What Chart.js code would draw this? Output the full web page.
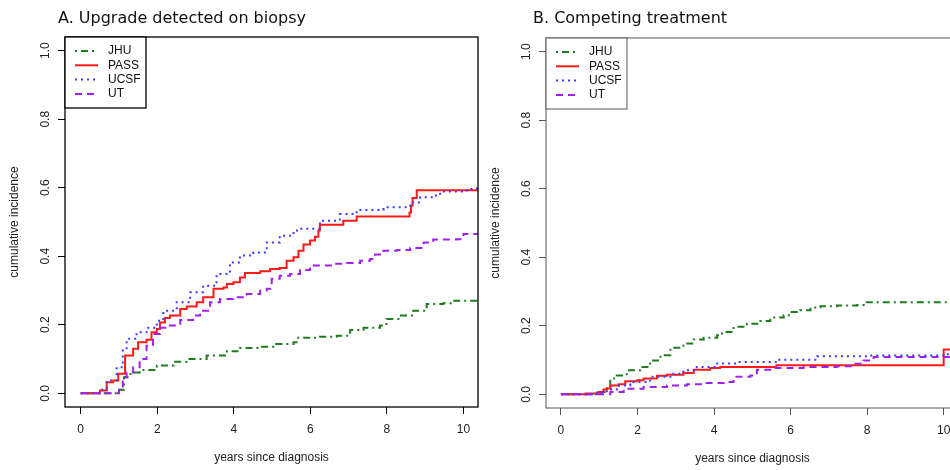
<!DOCTYPE html>
<html>
<head>
<meta charset="utf-8">
<script src="https://cdn.jsdelivr.net/npm/chart.js@4.4.1/dist/chart.umd.min.js"></script>
<style>
html, body { margin: 0; padding: 0; background: #fff; overflow: hidden; width: 950px; height: 470px; }
#left { position: absolute; left: 0; top: 0; }
#right { position: absolute; left: 480px; top: 0; }
</style>
</head>
<body>
<canvas id="left" width="490" height="470"></canvas>
<canvas id="right" width="490" height="470"></canvas>
<script>
var groups = ["JHU", "PASS", "UCSF", "UT"];
var xTicks = [0, 2, 4, 6, 8, 10];
var yTicks = [0, 0.2, 0.4, 0.6, 0.8, 1.0];
var yTickLabels = ["0.0", "0.2", "0.4", "0.6", "0.8", "1.0"];

// A. upgrade detected on biopsy (years, cumulative incidence)
var upJhuT = [0, 0.8, 1.0, 1.13, 1.3, 1.54, 1.99, 2.43, 2.77, 3.29, 3.82, 4.16, 4.69, 5.11, 5.56, 5.64, 6.25, 6.69, 7.04, 7.39, 7.82, 7.99, 8.34, 8.69, 9.04, 9.47, 9.73, 10.5];
var upJhuY = [0, 0, 0.01, 0.047, 0.061, 0.068, 0.081, 0.092, 0.1, 0.11, 0.123, 0.132, 0.136, 0.144, 0.149, 0.162, 0.165, 0.168, 0.185, 0.191, 0.198, 0.217, 0.227, 0.241, 0.261, 0.263, 0.27, 0.27];
var upPassT = [0, 0.42, 0.5, 0.68, 0.85, 0.98, 1.16, 1.37, 1.5, 1.72, 1.85, 1.99, 2.07, 2.2, 2.33, 2.6, 2.77, 3.03, 3.2, 3.47, 3.73, 3.82, 3.99, 4.16, 4.29, 4.69, 4.95, 5.2, 5.38, 5.56, 5.69, 5.82, 5.99, 6.12, 6.21, 6.25, 6.86, 7.21, 8.59, 8.63, 8.67, 8.78, 10.5];
var upPassY = [0, 0, 0.008, 0.032, 0.037, 0.057, 0.11, 0.13, 0.149, 0.156, 0.178, 0.188, 0.207, 0.22, 0.227, 0.246, 0.253, 0.266, 0.28, 0.305, 0.309, 0.319, 0.324, 0.338, 0.351, 0.356, 0.363, 0.366, 0.387, 0.397, 0.416, 0.434, 0.446, 0.457, 0.475, 0.492, 0.504, 0.516, 0.528, 0.548, 0.57, 0.593, 0.593];
var upUcsfT = [0, 0.4, 0.5, 0.68, 0.94, 1.1, 1.2, 1.46, 1.72, 1.99, 2.16, 2.51, 2.86, 3.2, 3.55, 3.9, 4.16, 4.51, 4.86, 5.2, 5.56, 5.73, 6.25, 6.77, 7.21, 7.91, 8.61, 8.87, 9.21, 9.39, 10.09, 10.35, 10.5];
var upUcsfY = [0, 0, 0.01, 0.037, 0.076, 0.125, 0.159, 0.178, 0.191, 0.212, 0.241, 0.266, 0.295, 0.314, 0.348, 0.382, 0.402, 0.411, 0.44, 0.46, 0.475, 0.48, 0.504, 0.523, 0.535, 0.543, 0.557, 0.572, 0.577, 0.589, 0.596, 0.606, 0.606];
var upUtT = [0, 0.81, 1.0, 1.1, 1.2, 1.37, 1.54, 1.72, 1.89, 2.07, 2.33, 2.6, 2.94, 3.12, 3.38, 3.64, 3.99, 4.34, 4.69, 4.86, 4.99, 5.2, 5.47, 5.73, 5.99, 6.6, 6.95, 7.3, 7.56, 7.69, 7.91, 8.26, 8.61, 8.96, 9.21, 9.82, 10.0, 10.5];
var upUtY = [0, 0, 0.01, 0.047, 0.061, 0.076, 0.1, 0.139, 0.173, 0.191, 0.198, 0.214, 0.227, 0.241, 0.266, 0.275, 0.28, 0.29, 0.3, 0.305, 0.334, 0.343, 0.348, 0.36, 0.373, 0.378, 0.38, 0.387, 0.392, 0.405, 0.416, 0.418, 0.424, 0.44, 0.449, 0.45, 0.465, 0.465];

// B. competing treatment
var ctJhuT = [0, 0.77, 1.03, 1.2, 1.29, 1.46, 1.72, 2.07, 2.33, 2.6, 2.86, 3.2, 3.47, 3.73, 4.08, 4.21, 4.51, 4.86, 5.21, 5.47, 5.82, 5.99, 6.25, 6.52, 6.78, 7.21, 7.74, 7.91, 10.5];
var ctJhuY = [0, 0, 0.007, 0.021, 0.046, 0.055, 0.07, 0.08, 0.099, 0.114, 0.136, 0.148, 0.16, 0.165, 0.172, 0.182, 0.197, 0.206, 0.214, 0.224, 0.231, 0.24, 0.245, 0.253, 0.257, 0.259, 0.261, 0.269, 0.27];
var ctPassT = [0, 0.5, 0.64, 0.98, 1.11, 1.2, 1.29, 1.51, 1.68, 1.99, 2.16, 2.51, 2.77, 3.2, 3.47, 3.9, 4.16, 5.63, 10.0, 10.5];
var ctPassY = [0, 0, 0.002, 0.007, 0.014, 0.017, 0.026, 0.029, 0.038, 0.041, 0.046, 0.054, 0.057, 0.062, 0.072, 0.077, 0.08, 0.085, 0.131, 0.131];
var ctUcsfT = [0, 0.5, 0.94, 1.2, 1.46, 1.81, 2.33, 2.86, 3.2, 3.55, 4.08, 4.6, 5.64, 6.69, 8.08, 10.0, 10.5];
var ctUcsfY = [0, 0, 0.005, 0.014, 0.026, 0.036, 0.051, 0.06, 0.07, 0.08, 0.09, 0.094, 0.101, 0.111, 0.113, 0.117, 0.117];
var ctUtT = [0, 1.2, 1.29, 1.64, 2.16, 2.77, 3.29, 3.73, 4.34, 4.51, 4.95, 5.12, 5.47, 6.34, 7.21, 7.65, 7.91, 8.17, 10.5];
var ctUtY = [0, 0, 0.007, 0.016, 0.021, 0.026, 0.029, 0.033, 0.036, 0.051, 0.055, 0.072, 0.077, 0.08, 0.082, 0.089, 0.099, 0.109, 0.109];

var colors = ["#1e7b1e", "#ff1a1a", "#3c3cff", "#a020f0"];
var dashes = [[2, 4, 7, 4], [], [2, 4], [7, 5]];

var pairs = function(t, y) {
    return t.map(function(v, i) { return {x: v, y: y[i]}; });
};

var makeSets = function(series) {
    return series.map(function(s, i) {
        return {
            label: groups[i],
            data: pairs(s[0], s[1]),
            borderColor: colors[i],
            borderWidth: 2,
            borderDash: dashes[i],
            // horizontal first, then jump up at the new time
            stepped: 'before',
            pointRadius: 0,
            fill: false,
            order: 4 - i
        };
    });
};

var rDecor = {
    id: 'rDecor',
    afterDraw: function(chart, args, o) {
        var ctx = chart.ctx, a = chart.chartArea, ys = chart.scales.y;
        ctx.save();
        // title
        ctx.fillStyle = '#111';
        ctx.font = '16px "DejaVu Sans"';
        ctx.textAlign = 'left';
        ctx.textBaseline = 'alphabetic';
        ctx.fillText(o.title, a.left + o.titleDx, 23);
        // rotated y tick labels
        ctx.font = '12px "Liberation Sans"';
        ctx.fillStyle = '#222';
        ys.ticks.forEach(function(t, i) {
            ctx.save();
            ctx.translate(a.left - 19, ys.getPixelForValue(t.value));
            ctx.rotate(-Math.PI / 2);
            ctx.textAlign = 'center';
            ctx.textBaseline = 'middle';
            ctx.fillText(yTickLabels[i], 0, 0);
            ctx.restore();
        });
        // axis titles
        ctx.save();
        ctx.translate(a.left - 50, (a.top + a.bottom) / 2);
        ctx.rotate(-Math.PI / 2);
        ctx.textAlign = 'center';
        ctx.textBaseline = 'middle';
        ctx.fillText('cumulative incidence', 0, 0);
        ctx.restore();
        ctx.textAlign = 'center';
        ctx.textBaseline = 'middle';
        ctx.fillText('years since diagnosis', (a.left + a.right) / 2, a.bottom + 51);
        // box
        ctx.strokeStyle = o.boxColor;
        ctx.lineWidth = o.boxWidth;
        ctx.strokeRect(a.left, a.top, a.right - a.left, a.bottom - a.top);
        // legend
        var lw = 81, lh = 71;
        ctx.fillStyle = '#fff';
        ctx.fillRect(a.left, a.top, lw, lh);
        ctx.strokeRect(a.left, a.top, lw, lh);
        ctx.textAlign = 'left';
        ctx.font = '12px "Liberation Sans"';
        chart.data.datasets.forEach(function(ds, i) {
            var y = a.top + 14 + 14.3 * i;
            ctx.save();
            ctx.strokeStyle = ds.borderColor;
            ctx.lineWidth = 2;
            ctx.setLineDash(ds.borderDash);
            ctx.beginPath();
            ctx.moveTo(a.left + 10, y);
            ctx.lineTo(a.left + 33, y);
            ctx.stroke();
            ctx.restore();
            ctx.fillStyle = '#111';
            ctx.fillText(ds.label, a.left + 43, y);
        });
        ctx.restore();
    }
};

var makeChart = function(id, series, opts) {
    return new Chart(id, {
        type: 'line',
        data: { datasets: makeSets(series) },
        plugins: [rDecor],
        options: {
            responsive: false,
            animation: false,
            devicePixelRatio: 1,
            layout: { padding: { top: opts.top, right: opts.right, left: 0, bottom: 0 } },
            plugins: {
                legend: { display: false },
                tooltip: { enabled: false },
                rDecor: opts
            },
            scales: {
                x: {
                    type: 'linear',
                    min: opts.xmin,
                    max: opts.xmax,
                    afterBuildTicks: function(s) { s.ticks = xTicks.map(function(v) { return {value: v}; }); },
                    afterFit: function(s) { s.height = 470 - opts.bottom; },
                    grid: { drawOnChartArea: false, tickLength: 7, color: opts.boxColor },
                    border: { display: false },
                    ticks: { font: { family: 'Liberation Sans', size: 12 }, color: '#222', padding: 8, maxRotation: 0 }
                },
                y: {
                    type: 'linear',
                    min: -0.04,
                    max: 1.04,
                    afterBuildTicks: function(s) { s.ticks = yTicks.map(function(v) { return {value: v}; }); },
                    afterFit: function(s) { s.width = opts.left; },
                    grid: { drawOnChartArea: false, tickLength: 7, color: opts.boxColor },
                    border: { display: false },
                    ticks: { display: false }
                }
            }
        }
    });
};

var chartA = makeChart('left', [[upJhuT, upJhuY], [upPassT, upPassY], [upUcsfT, upUcsfY], [upUtT, upUtY]], {
    title: 'A. Upgrade detected on biopsy', titleDx: -7,
    left: 65, right: 12, top: 37, bottom: 407,
    xmin: -0.41, xmax: 10.38,
    boxColor: '#000', boxWidth: 1.3
});

var chartB = makeChart('right', [[ctJhuT, ctJhuY], [ctPassT, ctPassY], [ctUcsfT, ctUcsfY], [ctUtT, ctUtY]], {
    title: 'B. Competing treatment', titleDx: -13,
    left: 66, right: 11, top: 38, bottom: 408,
    xmin: -0.39, xmax: 10.4,
    boxColor: '#555', boxWidth: 1
});
</script>
</body>
</html>
